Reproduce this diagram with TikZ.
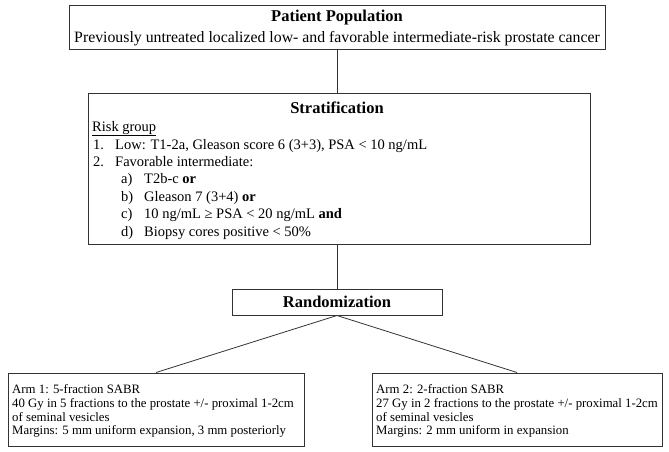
\documentclass[tikz,border=0pt]{standalone}
\usepackage{fontspec}
\setmainfont{Liberation Serif}
\usetikzlibrary{positioning, calc}

\begin{document}
\begin{tikzpicture}[x=1pt, y=-1pt,
    box/.style={draw=black!80, line width=1pt, inner sep=0pt},
    link/.style={draw=black!80, line width=0.8pt},
    head/.style={anchor=base, inner sep=0pt, font=\fontsize{16.5}{19}\selectfont\bfseries},
    txt/.style={anchor=base west, inner sep=0pt, font=\fontsize{14.5}{17}\selectfont},
    armtxt/.style={anchor=base west, inner sep=0pt, font=\fontsize{12.8}{15}\selectfont}]
  \useasboundingbox (0,0) rectangle (669,451);

  \node[box, minimum width=536pt, minimum height=44pt] (pop) at (337,27) {};
  \node[head] (popHead) at (337,21) {Patient Population};
  \node[txt, anchor=base, font=\fontsize{15.8}{18}\selectfont] (popText) at (337,42)
    {Previously untreated localized low- and favorable intermediate-risk prostate cancer};

  \node[box, minimum width=502pt, minimum height=151pt] (strat) at (339,168.5) {};
  \node[head] (stratHead) at (337,113) {Stratification};
  \node[txt] (risk) at (92,131) {\underline{Risk group}};
  \node[txt] (n1) at (93,149) {1.};
  \node[txt] (low) at (115,149) {Low: T1-2a, Gleason score 6 (3+3), PSA < 10 ng/mL};
  \node[txt] (n2) at (93,166) {2.};
  \node[txt] (fav) at (115,166) {Favorable intermediate:};
  \node[txt] (ia) at (121,183.5) {a)};
  \node[txt] (ta) at (144,183.5) {T2b-c \textbf{or}};
  \node[txt] (ib) at (121,201) {b)};
  \node[txt] (tb) at (144,201) {Gleason 7 (3+4) \textbf{or}};
  \node[txt] (ic) at (121,218.5) {c)};
  \node[txt] (tc) at (144,218.5) {10 ng/mL ≥ PSA < 20 ng/mL \textbf{and}};
  \node[txt] (id) at (121,236) {d)};
  \node[txt] (td) at (144,236) {Biopsy cores positive < 50\%};

  \node[box, minimum width=210pt, minimum height=26pt] (rand) at (337,302) {};
  \node[head] (randHead) at (337,307.5) {Randomization};

  \node[box, minimum width=296pt, minimum height=73pt] (arm1) at (156,409.5) {};
  \node[armtxt] (a1l1) at (12,393) {Arm 1: 5-fraction SABR};
  \node[armtxt] (a1l2) at (12,407) {40 Gy in 5 fractions to the prostate +/- proximal 1-2cm};
  \node[armtxt] (a1l3) at (12,421) {of seminal vesicles};
  \node[armtxt] (a1l4) at (12,434.5) {Margins: 5 mm uniform expansion, 3 mm posteriorly};

  \node[box, minimum width=290pt, minimum height=73pt] (arm2) at (517,409.5) {};
  \node[armtxt] (a2l1) at (376,393) {Arm 2: 2-fraction SABR};
  \node[armtxt] (a2l2) at (376,407) {27 Gy in 2 fractions to the prostate +/- proximal 1-2cm};
  \node[armtxt] (a2l3) at (376,421) {of seminal vesicles};
  \node[armtxt] (a2l4) at (376,434.5) {Margins: 2 mm uniform in expansion};

  \draw[link] (pop.south) -- (pop.south |- strat.north);
  \draw[link] (rand.north |- strat.south) -- (rand.north);
  \draw[link] (rand.south) -- (arm1.north);
  \draw[link] (rand.south) -- (arm2.north);
\end{tikzpicture}
\end{document}
